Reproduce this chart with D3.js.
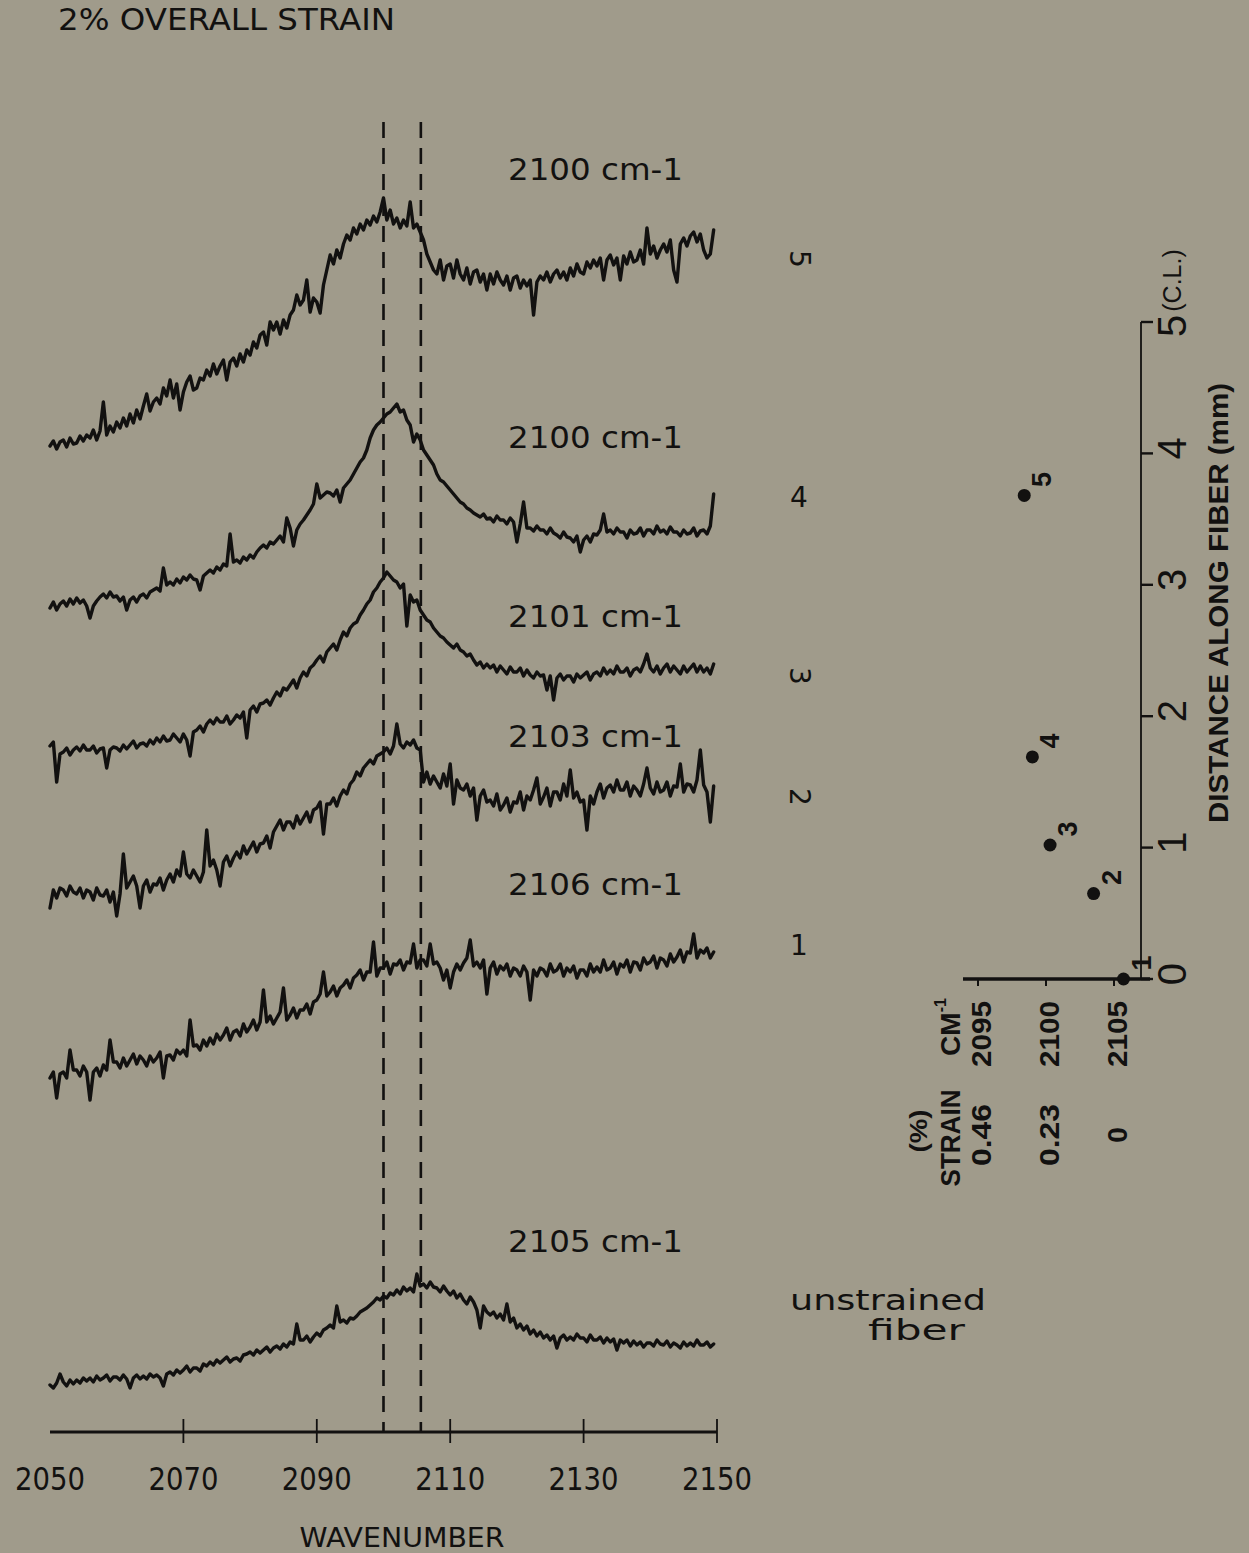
<!DOCTYPE html>
<html>
<head>
<meta charset="utf-8">
<script src="https://cdn.jsdelivr.net/npm/d3@7"></script>
<style>
  html, body { margin: 0; padding: 0; background: #9f9a8a; }
  svg { display: block; }
</style>
</head>
<body>
<script>
// ---- Raman spectra of a fibre at 2% overall strain ----
const title = "2% OVERALL STRAIN";
const axisTitle = "WAVENUMBER";
const xTicks = [2050, 2070, 2090, 2110, 2130, 2150];

// sampling grid of the spectra (cm-1)
const wavenumbers = d3.range(2050, 2150, 0.5);

// intensities (a.u.) above each spectrum's own offset
const spectrum5 = [
  4,9,1,8, 10,3,12,6, 7,14,9,15, 12,20,10,19, 48,15,24,18,
  28,22,32,24, 36,27,40,31, 44,56,39,48, 52,46,62,54, 70,52,66,40,
  58,68,74,60, 62,72,70,80, 74,86,76,84, 90,70,88,92, 84,96,88,100,
  95,108,102,115, 118,105,128,120, 128,116,130,122, 135,140,155,145, 150,170,138,152,
  148,137,165,180, 195,186,200,192, 206,215,210,222, 216,226,220,230, 225,234,228,238,
  252,230,240,226, 232,222,230,224, 248,222,226,218, 210,196,188,180, 176,190,170,184,
  186,172,190,176, 170,182,166,178, 180,168,176,160, 176,166,178,170, 165,174,160,172,
  174,162,170,164, 170,135,168,174, 170,178,168,176, 180,172,178,170, 182,174,186,178,
  176,188,182,190, 184,192,170,190, 195,185,192,170, 194,186,198,188, 190,200,186,222,
  196,204,192,200, 206,198,210,180, 168,206,212,204, 214,218,208,216, 200,192,196,220
];
const spectrum4 = [
  2,8,0,6, 9,4,11,6, 12,7,10,4, -8,4,9,13, 16,12,18,13,
  14,9,13,0, 10,13,8,14, 16,12,18,20, 22,19,42,25, 28,25,31,27,
  33,30,35,31, 30,20,34,37, 40,37,43,40, 46,44,76,48, 50,47,53,50,
  55,52,58,62, 65,62,68,66, 70,74,68,92, 82,64,80,86, 90,95,100,106,
  126,112,115,118, 117,114,120,108, 122,126,130,136, 142,148,152,160, 172,180,185,188,
  192,196,198,202, 206,198,200,190, 185,168,176,170, 160,155,150,145, 136,130,128,124,
  120,116,112,108, 106,102,100,97, 95,93,96,91, 92,88,94,90, 90,86,92,88,
  68,86,108,82, 82,79,84,80, 80,76,82,77, 75,72,78,73, 72,68,74,58,
  70,74,68,76, 75,80,96,78, 80,76,82,78, 78,72,80,76, 77,82,74,80,
  80,76,84,78, 80,76,83,78, 78,74,80,76, 77,82,74,79, 80,76,84,116
];
const spectrum3 = [
  14,18,-22,6, 8,12,5,10, 13,9,15,10, 10,14,7,11, 12,-8,10,13,
  12,9,15,11, 15,19,12,16, 17,14,20,16, 22,18,24,19, 20,26,22,18,
  26,20,4,28, 30,34,28,36, 40,36,42,38, 38,44,36,40, 45,42,48,22,
  50,54,48,56, 57,60,55,62, 68,64,72,70, 75,80,72,82, 88,84,92,95,
  100,104,98,108, 112,116,110,120, 128,124,132,136, 138,145,150,156, 160,168,172,178,
  182,188,184,180, 178,172,176,134, 165,158,160,150, 145,140,138,132, 128,124,122,118,
  115,112,116,110, 108,104,106,100, 95,98,92,96, 92,95,88,94, 90,86,93,88,
  88,92,84,90, 85,82,88,84, 85,70,84,60, 82,86,80,84, 84,78,86,82,
  85,88,80,86, 88,84,92,86, 90,86,94,88, 88,92,84,90, 92,88,96,106,
  92,88,94,86, 92,96,88,94, 90,86,94,88, 92,96,88,94, 88,92,86,96
];
const spectrum2 = [
  -8,10,2,12, 10,4,14,8, 6,12,2,10, 8,0,12,5, 4,10,-2,8,
  -16,6,46,12, 18,24,14,-8, 14,20,8,16, 15,22,10,20, 26,18,30,24,
  48,26,22,30, 24,18,28,70, 34,40,30,14, 38,44,34,42, 48,42,54,46,
  52,58,48,56, 57,64,52,68, 74,80,70,78, 78,72,84,76, 82,88,78,90,
  92,98,66,96, 96,102,94,104, 110,106,116,120, 128,124,132,136, 140,136,144,146,
  148,152,146,154, 176,156,152,158, 155,160,152,150, 118,128,116,124, 118,112,126,114,
  136,96,120,112, 110,116,104,112, 80,104,110,98, 100,94,106,90, 95,102,88,98,
  97,108,90,104, 100,110,122,96, 103,112,94,108, 108,100,116,104, 130,102,108,98,
  100,70,104,96, 108,116,102,112, 115,108,120,110, 110,118,104,114, 110,104,116,132,
  112,106,118,108, 110,118,104,114, 113,136,108,116, 115,108,120,150, 115,108,78,114
];
const spectrum1 = [
  2,8,-18,6, 8,2,30,10, 10,4,14,8, -20,8,12,4, 15,10,40,18,
  18,12,22,14, 20,26,16,24, 20,14,24,18, 22,28,2,24, 25,20,30,26,
  30,24,60,34, 35,30,40,34, 42,36,46,40, 45,52,40,48, 50,44,56,48,
  53,60,50,58, 90,58,64,56, 62,68,92,60, 65,72,62,70, 70,76,66,78,
  80,86,108,84, 88,94,84,92, 95,100,92,102, 105,110,100,108, 108,138,104,112,
  112,118,106,116, 115,120,110,118, 117,136,112,120, 120,114,136,116, 118,112,100,110,
  92,108,116,110, 117,122,140,114, 118,112,120,86, 112,118,106,114, 110,116,104,112,
  110,104,114,108, 80,110,104,112, 110,104,116,108, 110,116,104,112, 108,114,102,110,
  110,104,116,108, 113,108,120,110, 112,118,106,116, 113,120,108,118, 117,110,122,116,
  118,124,112,122, 120,114,126,118, 123,130,118,128, 127,146,122,130, 127,132,122,128
];
const spectrumUnstrained = [
  5,2,7,16, 8,4,10,6, 10,7,12,9, 12,8,14,10, 12,15,9,13,
  13,10,15,11, 2,12,15,11, 14,11,16,13, 15,12,4,16, 18,15,20,17,
  20,24,18,22, 22,19,26,24, 28,25,30,27, 30,33,28,31, 32,29,35,36,
  38,35,40,37, 40,43,38,42, 44,41,46,43, 48,46,66,50, 50,54,48,53,
  57,54,60,62, 65,62,84,68, 70,67,72,71, 74,78,80,82, 85,88,92,90,
  94,92,97,95, 100,96,103,99, 102,98,116,104, 106,102,108,103, 102,98,104,99,
  95,99,92,96, 90,86,93,88, 80,62,84,78, 75,78,72,76, 70,86,68,72,
  62,66,60,64, 56,60,54,58, 52,55,50,54, 42,52,55,50, 53,50,56,52,
  52,48,55,50, 50,53,47,52, 48,51,40,50, 47,50,44,49, 45,48,43,47,
  47,44,50,46, 45,49,43,47, 45,42,48,44, 47,44,50,45, 45,48,43,46
];

const spectra = [spectrum5, spectrum4, spectrum3, spectrum2, spectrum1, spectrumUnstrained];
const traceOffsets = [982, 822, 672, 532, 352, 42];
const traceNames = ["5", "4", "3", "2", "1"];
const peakLabels = ["2100 cm-1", "2100 cm-1", "2101 cm-1", "2103 cm-1", "2106 cm-1", "2105 cm-1"];
const referenceLines = [2100, 2105.6];

// ---- inset: peak position versus distance along the fibre ----
const siteNames = ["5", "4", "3", "2", "1"];
const sitePeaks = [2098.4, 2099.0, 2100.3, 2103.5, 2105.7];
const siteDistances = [3.68, 1.69, 1.02, 0.65, 0.0];
const insetPeakTicks = [2095, 2100, 2105];
const insetStrainLabels = ["0.46", "0.23", "0"];
const distanceTicks = [0, 1, 2, 3, 4, 5];

// ---------------------------------------------------------------
const W = 1249, H = 1553;
const ink = "#121110";
const plotFont = "'DejaVu Sans', sans-serif";
const boldFont = "'Liberation Sans', Arial, sans-serif";

const svg = d3.select("body").append("svg")
  .attr("width", W).attr("height", H)
  .attr("viewBox", `0 0 ${W} ${H}`);

svg.append("rect").attr("width", W).attr("height", H).attr("fill", "#a09b8b");

const x = d3.scaleLinear().domain([2050, 2150]).range([50, 717]);
const y = d3.scaleLinear().domain([0, 1400]).range([1432, 32]);

function label(g, s, px, py, o = {}) {
  const t = g.append("text")
    .attr("x", px).attr("y", py)
    .attr("fill", ink)
    .attr("font-family", o.family || plotFont)
    .attr("font-size", o.size || 30)
    .attr("font-weight", o.weight || "normal")
    .attr("text-anchor", o.anchor || "start")
    .text(s);
  if (o.len) t.attr("textLength", o.len).attr("lengthAdjust", "spacingAndGlyphs");
  return t;
}
function vlabel(g, s, cx, cy, o = {}) {
  const t = g.append("text")
    .attr("transform", `translate(${cx},${cy}) rotate(${o.rot == null ? -90 : o.rot})`)
    .attr("fill", ink)
    .attr("font-family", o.family || boldFont)
    .attr("font-size", o.size || 28)
    .attr("font-weight", o.weight || "bold")
    .attr("text-anchor", o.anchor || "middle")
    .attr("dominant-baseline", "central")
    .text(s);
  if (o.len) t.attr("textLength", o.len).attr("lengthAdjust", "spacingAndGlyphs");
  return t;
}

// title
label(svg, title, 58, 30, { size: 30, len: 337 });

// dashed reference lines
svg.append("g").selectAll("line").data(referenceLines).join("line")
  .attr("x1", d => x(d)).attr("x2", d => x(d))
  .attr("y1", y(1310)).attr("y2", y(0))
  .attr("stroke", ink).attr("stroke-width", 2.6)
  .attr("stroke-dasharray", "16,10");

// spectra
const line = d3.line()
  .x((d, i) => x(wavenumbers[i]))
  .curve(d3.curveLinear);

const traces = svg.append("g");
spectra.forEach((s, k) => {
  traces.append("path")
    .attr("d", line.y(d => y(d + traceOffsets[k]))(s))
    .attr("fill", "none")
    .attr("stroke", ink)
    .attr("stroke-width", 3.4)
    .attr("stroke-linejoin", "round")
    .attr("stroke-linecap", "round");
});

// peak labels
const peakLabelY = [180, 448, 627, 747, 895, 1252];
peakLabels.forEach((s, k) => label(svg, s, 508, peakLabelY[k], { size: 30, len: 175 }));

// spectrum numbers
const nameY = [259, 497, 676, 797, 945];
const nameRot = [90, 0, 90, 90, 0];
traceNames.forEach((s, k) => {
  svg.append("text")
    .attr("transform", `translate(799,${nameY[k]}) rotate(${nameRot[k]})`)
    .attr("fill", ink).attr("font-family", plotFont).attr("font-size", 28)
    .attr("text-anchor", "middle").attr("dominant-baseline", "central")
    .text(s);
});
label(svg, "unstrained", 790, 1310, { size: 28, len: 196 });
label(svg, "fiber", 868, 1340, { size: 28, len: 97 });

// wavenumber axis
const axisG = svg.append("g");
axisG.append("line")
  .attr("x1", x(2050)).attr("x2", x(2150))
  .attr("y1", y(0)).attr("y2", y(0))
  .attr("stroke", ink).attr("stroke-width", 3);
axisG.selectAll(".tk").data(xTicks.slice(1)).join("line")
  .attr("x1", d => x(d)).attr("x2", d => x(d))
  .attr("y1", y(0) - 13).attr("y2", y(0) + 11)
  .attr("stroke", ink).attr("stroke-width", 1.8);
xTicks.forEach(t => label(axisG, String(t), x(t), 1490, { size: 32, len: 70, anchor: "middle" }));
label(axisG, axisTitle, 402, 1547, { size: 27, len: 205, anchor: "middle" });

// ---- inset ----
const ix = d3.scaleLinear().domain([2095, 2105]).range([978, 1114]);
const iy = d3.scaleLinear().domain([0, 5]).range([979, 322]);
const inset = svg.append("g");
const axisX = 1141;

inset.append("line")
  .attr("x1", 963).attr("x2", 1150).attr("y1", iy(0)).attr("y2", iy(0))
  .attr("stroke", ink).attr("stroke-width", 3.5);
inset.selectAll(".px").data(insetPeakTicks).join("line")
  .attr("x1", d => ix(d)).attr("x2", d => ix(d))
  .attr("y1", iy(0)).attr("y2", iy(0) + 7)
  .attr("stroke", ink).attr("stroke-width", 2);
inset.append("line")
  .attr("x1", axisX).attr("x2", axisX).attr("y1", iy(0)).attr("y2", iy(5))
  .attr("stroke", ink).attr("stroke-width", 1.8);
inset.selectAll(".py").data(distanceTicks).join("line")
  .attr("x1", axisX).attr("x2", axisX + 12)
  .attr("y1", d => iy(d)).attr("y2", d => iy(d))
  .attr("stroke", ink).attr("stroke-width", 2.4);

// distance labels
distanceTicks.slice(0, 5).forEach(d =>
  vlabel(inset, String(d), 1172, iy(d) - 5, { size: 40, weight: "normal" }));
const cl = inset.append("text")
  .attr("transform", `translate(1172,337) rotate(-90)`)
  .attr("fill", ink).attr("font-family", boldFont).attr("font-weight", "normal")
  .attr("dominant-baseline", "central").attr("text-anchor", "start");
cl.append("tspan").attr("font-size", 40).text(String(distanceTicks[5]));
cl.append("tspan").attr("font-size", 25).attr("dx", 3).text("(C.L.)");

vlabel(inset, "DISTANCE  ALONG  FIBER (mm)", 1219, 603, { size: 27, len: 440 });

// peak / strain labels
insetPeakTicks.forEach((t, i) => vlabel(inset, String(t), ix(t) + 3, 1034, { size: 28, len: 66 }));
insetStrainLabels.forEach((s, i) =>
  vlabel(inset, s, ix(insetPeakTicks[i]) + 3, 1135, { size: 28, len: s.length > 1 ? 62 : null }));
const cm = inset.append("text")
  .attr("transform", `translate(950,1027) rotate(-90)`)
  .attr("fill", ink).attr("font-family", boldFont).attr("font-weight", "bold")
  .attr("font-size", 28).attr("text-anchor", "middle").attr("dominant-baseline", "central");
cm.append("tspan").text("CM");
cm.append("tspan").attr("font-size", 16).attr("dy", -10).text("-1");
vlabel(inset, "STRAIN", 950, 1138, { size: 28, len: 97 });
vlabel(inset, "(%)", 918, 1131, { size: 24, len: 43 });

// measurement sites
inset.selectAll("circle").data(sitePeaks).join("circle")
  .attr("cx", d => ix(d))
  .attr("cy", (d, i) => iy(siteDistances[i]))
  .attr("r", 6.5).attr("fill", ink);
siteNames.forEach((s, i) =>
  vlabel(inset, s, ix(sitePeaks[i]) + 18, iy(siteDistances[i]) - 16, { size: 27 }));
</script>
</body>
</html>
